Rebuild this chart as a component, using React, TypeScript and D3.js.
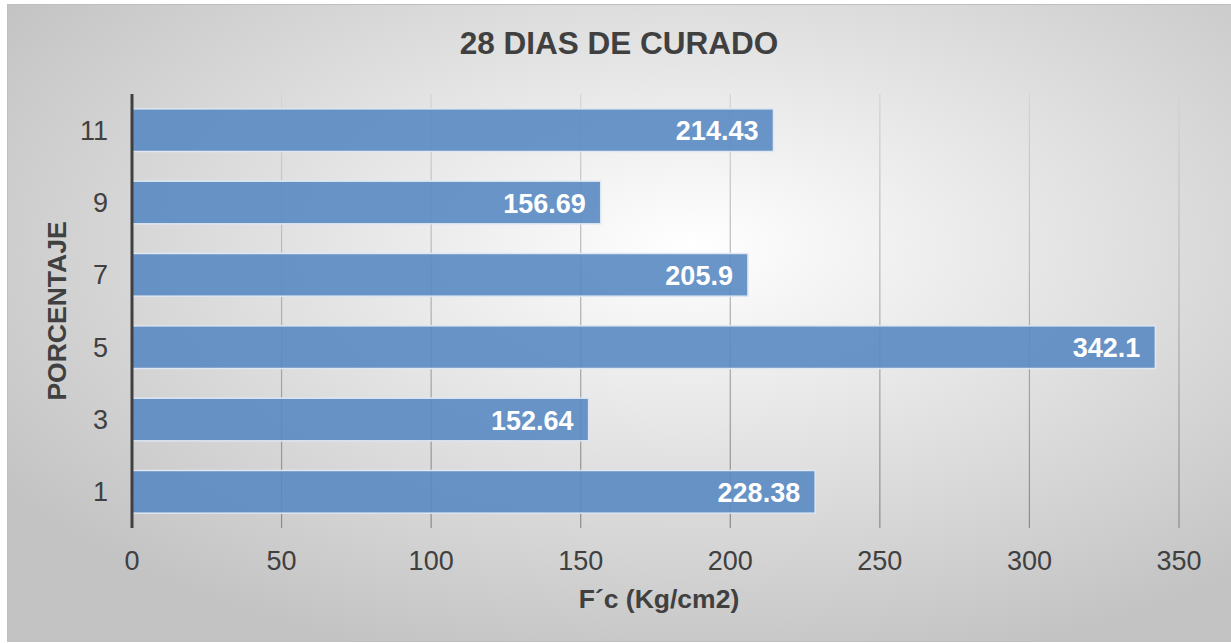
import React, { useEffect, useRef } from 'react';
import * as d3 from 'd3';

const categories = ['11', '9', '7', '5', '3', '1'];
const values = [214.43, 156.69, 205.9, 342.1, 152.64, 228.38];
const xTicks = [0, 50, 100, 150, 200, 250, 300, 350];

const chartTitle = '28 DIAS DE CURADO';
const xTitle = 'F´c (Kg/cm2)';
const yTitle = 'PORCENTAJE';

const W = 1231;
const H = 643;

const App: React.FC = () => {
  const ref = useRef<SVGSVGElement>(null);

  useEffect(() => {
    const svg = d3.select(ref.current);
    svg.selectAll('*').remove();

    const font = '"Liberation Sans", Arial, sans-serif';
    const left = 132, right = 1179, top = 94, bottom = 528;

    const defs = svg.append('defs');
    const bg = defs.append('radialGradient')
      .attr('id', 'bg')
      .attr('cx', '56%').attr('cy', '38%').attr('r', '68%');
    bg.append('stop').attr('offset', '0%').attr('stop-color', '#ffffff');
    bg.append('stop').attr('offset', '100%').attr('stop-color', '#c3c3c3');

    const grid = defs.append('linearGradient')
      .attr('id', 'grid')
      .attr('gradientUnits', 'userSpaceOnUse')
      .attr('x1', 0).attr('x2', 0).attr('y1', top).attr('y2', bottom);
    grid.append('stop').attr('offset', '0%').attr('stop-color', '#d4d4d4');
    grid.append('stop').attr('offset', '100%').attr('stop-color', '#8a8a8a');

    // chart area
    svg.append('rect')
      .attr('x', 7.5).attr('y', 4.5)
      .attr('width', W - 7).attr('height', H - 6)
      .attr('fill', 'url(#bg)')
      .attr('stroke', '#bfbfbf');

    const x = d3.scaleLinear().domain([0, 350]).range([left, right]);
    const y = d3.scaleBand<string>().domain(categories).range([top, bottom]).paddingInner(0.41).paddingOuter(0.205);

    // gridlines
    svg.append('g').selectAll('line')
      .data(xTicks.filter(t => t > 0))
      .enter()
      .append('line')
      .attr('x1', d => x(d)).attr('x2', d => x(d))
      .attr('y1', top).attr('y2', bottom)
      .attr('stroke', 'url(#grid)')
      .attr('stroke-width', 1.2);

    // bars
    svg.append('g').selectAll('rect')
      .data(categories)
      .enter()
      .append('rect')
      .attr('x', x(0))
      .attr('y', d => y(d) as number)
      .attr('width', (_, i) => x(values[i]) - x(0))
      .attr('height', y.bandwidth())
      .attr('fill', '#5a89c2')
      .attr('fill-opacity', 0.9)
      .attr('stroke', '#dfe7f2')
      .attr('stroke-width', 1.5);

    // data labels
    svg.append('g').selectAll('text')
      .data(categories)
      .enter()
      .append('text')
      .attr('x', (_, i) => x(values[i]) - 15)
      .attr('y', d => (y(d) as number) + y.bandwidth() / 2 + 10)
      .attr('text-anchor', 'end')
      .attr('fill', '#ffffff')
      .style('font-family', font)
      .style('font-size', '27px')
      .style('font-weight', 'bold')
      .text((_, i) => String(values[i]));

    // y axis line
    svg.append('line')
      .attr('x1', x(0)).attr('x2', x(0))
      .attr('y1', top).attr('y2', bottom)
      .attr('stroke', '#404040')
      .attr('stroke-width', 3);

    // y tick labels
    svg.append('g').selectAll('text')
      .data(categories)
      .enter()
      .append('text')
      .attr('x', 108)
      .attr('y', d => (y(d) as number) + y.bandwidth() / 2 + 9.5)
      .attr('text-anchor', 'end')
      .attr('fill', '#404040')
      .style('font-family', font)
      .style('font-size', '27px')
      .text(d => d);

    // x tick labels
    svg.append('g').selectAll('text')
      .data(xTicks)
      .enter()
      .append('text')
      .attr('x', d => x(d))
      .attr('y', 570)
      .attr('text-anchor', 'middle')
      .attr('fill', '#404040')
      .style('font-family', font)
      .style('font-size', '27px')
      .text(d => String(d));

    // titles
    svg.append('text')
      .attr('x', 619).attr('y', 54)
      .attr('text-anchor', 'middle')
      .attr('fill', '#404040')
      .style('font-family', font)
      .style('font-size', '31.5px')
      .style('font-weight', 'bold')
      .text(chartTitle);

    svg.append('text')
      .attr('x', 659).attr('y', 608)
      .attr('text-anchor', 'middle')
      .attr('fill', '#404040')
      .style('font-family', font)
      .style('font-size', '26.5px')
      .style('font-weight', 'bold')
      .text(xTitle);

    svg.append('text')
      .attr('transform', `translate(66, 311) rotate(-90)`)
      .attr('text-anchor', 'middle')
      .attr('fill', '#404040')
      .style('font-family', font)
      .style('font-size', '26.5px')
      .style('font-weight', 'bold')
      .text(yTitle);
  }, []);

  return (
    <svg
      ref={ref}
      width={W}
      height={H}
      style={{ position: 'absolute', left: 0, top: 0, display: 'block' }}
    />
  );
};

export default App;
